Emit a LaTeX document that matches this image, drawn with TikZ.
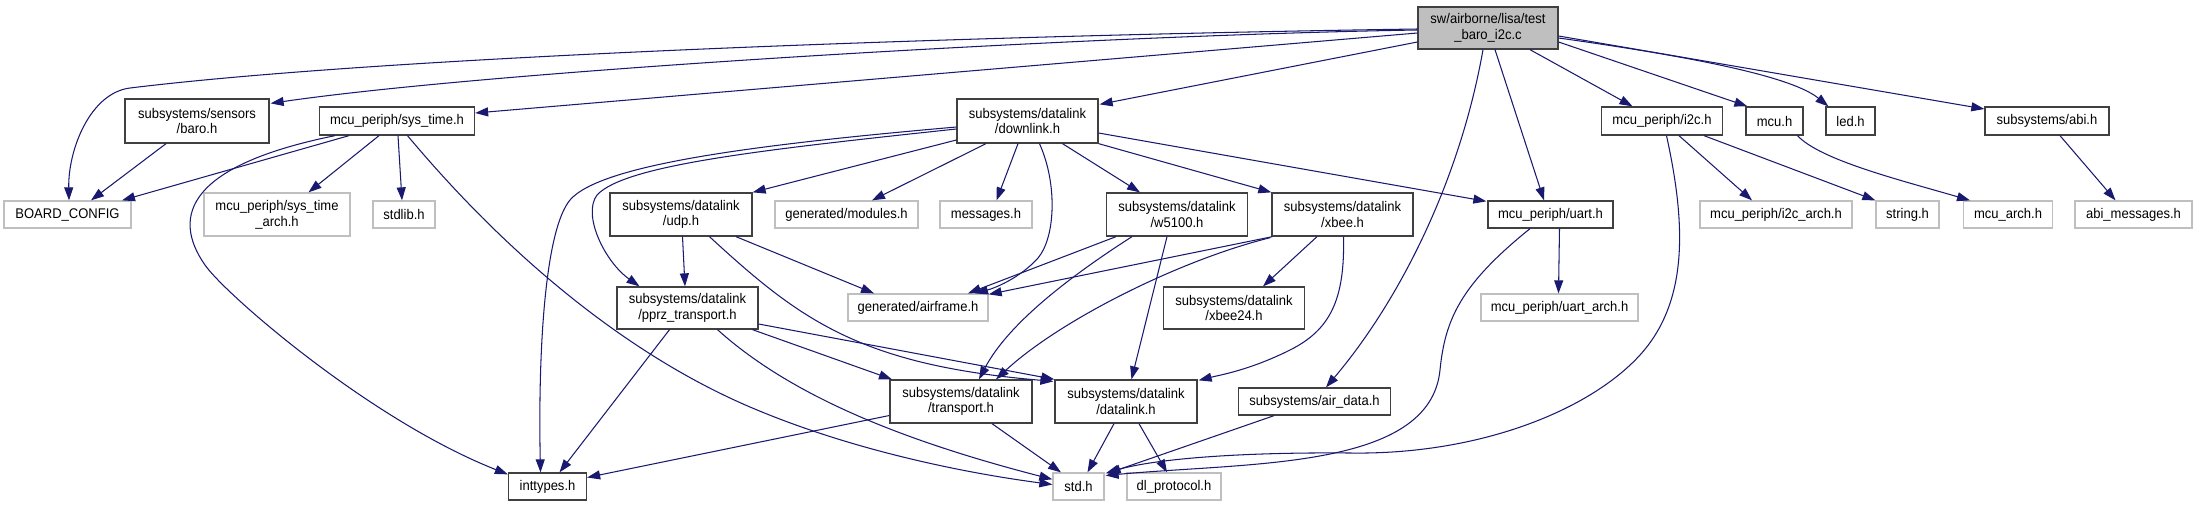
\documentclass[tikz,border=0pt]{standalone}
\usepackage{fontspec}
\newfontfamily\dfont{Liberation Sans}[FakeStretch=0.93]
\usetikzlibrary{arrows.meta,calc}
\definecolor{edgec}{HTML}{191970}
\definecolor{bordk}{HTML}{404040}
\definecolor{borgr}{HTML}{BFBFBF}
\definecolor{rootf}{HTML}{BFBFBF}
\tikzset{
  nd/.style={draw=bordk, line width=1.3pt, fill=white, inner sep=0pt, align=center,
    font=\dfont\fontsize{14}{15.7}\selectfont, text=black},
  gn/.style={nd, draw=borgr},
  rt/.style={nd, fill=rootf},
  ed/.style={draw=edgec, line width=1.05pt, -{Triangle[length=13pt,width=9pt]}, fill=none}
}
\begin{document}
\begin{tikzpicture}[x=1pt,y=-1pt]
\useasboundingbox[fill=white] (0,0) rectangle (2196,507);
% row 0
\node[rt, minimum width=140pt, minimum height=42pt] (root) at (1488,28) {sw/airborne/lisa/test\\\_baro\_i2c.c};
% row 1
\node[nd, minimum width=144pt, minimum height=44pt] (baro) at (197,121) {subsystems/sensors\\/baro.h};
\node[nd, minimum width=155pt, minimum height=28pt] (st) at (397,121) {mcu\_periph/sys\_time.h};
\node[nd, minimum width=141pt, minimum height=44pt] (dl) at (1027.5,121) {subsystems/datalink\\/downlink.h};
\node[nd, minimum width=121pt, minimum height=28pt] (i2c) at (1662,121) {mcu\_periph/i2c.h};
\node[nd, minimum width=57pt, minimum height=28pt] (mcu) at (1774.5,121) {mcu.h};
\node[nd, minimum width=49pt, minimum height=28pt] (led) at (1850.5,121) {led.h};
\node[nd, minimum width=124pt, minimum height=28pt] (abi) at (2047,121) {subsystems/abi.h};
% row 2
\node[gn, minimum width=127pt, minimum height=27pt] (bc) at (67.5,214.5) {BOARD\_CONFIG};
\node[gn, minimum width=146pt, minimum height=43pt] (sta) at (277,214.5) {mcu\_periph/sys\_time\\\_arch.h};
\node[gn, minimum width=62pt, minimum height=27pt] (stdlib) at (404,214.5) {stdlib.h};
\node[nd, minimum width=142pt, minimum height=43pt] (udp) at (681,214.5) {subsystems/datalink\\/udp.h};
\node[gn, minimum width=143pt, minimum height=27pt] (mod) at (846.5,214.5) {generated/modules.h};
\node[gn, minimum width=92pt, minimum height=27pt] (msg) at (986,214.5) {messages.h};
\node[nd, minimum width=141pt, minimum height=43pt] (w51) at (1177,214.5) {subsystems/datalink\\/w5100.h};
\node[nd, minimum width=141pt, minimum height=43pt] (xbee) at (1342.5,214.5) {subsystems/datalink\\/xbee.h};
\node[nd, minimum width=125pt, minimum height=27pt] (uart) at (1550.5,214.5) {mcu\_periph/uart.h};
\node[gn, minimum width=152pt, minimum height=27pt] (i2ca) at (1776,214.5) {mcu\_periph/i2c\_arch.h};
\node[gn, minimum width=63pt, minimum height=27pt] (str) at (1907.5,214.5) {string.h};
\node[gn, minimum width=89pt, minimum height=27pt] (mcua) at (2008,214.5) {mcu\_arch.h};
\node[gn, minimum width=117pt, minimum height=27pt] (abim) at (2133.5,214.5) {abi\_messages.h};
% row 3
\node[nd, minimum width=141pt, minimum height=42pt] (pprz) at (687.5,308) {subsystems/datalink\\/pprz\_transport.h};
\node[gn, minimum width=140pt, minimum height=27pt] (af) at (918,307.5) {generated/airframe.h};
\node[nd, minimum width=141pt, minimum height=42pt] (xb24) at (1234,308) {subsystems/datalink\\/xbee24.h};
\node[gn, minimum width=157pt, minimum height=27pt] (uarta) at (1559.5,307.5) {mcu\_periph/uart\_arch.h};
% row 4
\node[nd, minimum width=142pt, minimum height=43pt] (tr) at (961,401.5) {subsystems/datalink\\/transport.h};
\node[nd, minimum width=142pt, minimum height=43pt] (dlk) at (1126,401.5) {subsystems/datalink\\/datalink.h};
\node[nd, minimum width=152pt, minimum height=27pt] (ad) at (1314.5,401.5) {subsystems/air\_data.h};
% row 5
\node[nd, minimum width=78pt, minimum height=27pt] (it) at (547.5,486.5) {inttypes.h};
\node[gn, minimum width=51pt, minimum height=27pt] (std) at (1078.5,486.5) {std.h};
\node[gn, minimum width=94pt, minimum height=27pt] (dlp) at (1174,486.5) {dl\_protocol.h};
% edges from root
\draw[ed] ($(root.west)+(0,1)$) .. controls (1000,35) and (400,55) .. (130,88) .. controls (90,93) and (68,150) .. ($(bc.north)+(1.5,0)$);
\draw[ed] ($(root.west)+(0,2)$) .. controls (1100,35) and (500,70) .. ($(baro.north east)+(1,5)$);
\draw[ed] ($(root.west)+(0,5)$) -- ($(st.east)+(0,-8)$);
\draw[ed] ($(root.west)+(0,14)$) -- ($(dl.north east)+(1,6)$);
\draw[ed] ($(root.south)+(42,0)$) -- ($(i2c.north)+(-29.5,0)$);
\draw[ed] ($(root.east)+(0,14)$) -- ($(mcu.north west)+(2,0)$);
\draw[ed] ($(root.east)+(0,10)$) .. controls (1680,55) and (1790,75) .. ($(led.north west)+(3,0)$);
\draw[ed] ($(root.east)+(0,8)$) -- ($(abi.west)+(0,-12)$);
\draw[ed] ($(root.south)+(7,0)$) -- ($(uart.north)+(-6.5,0)$);
\draw[ed] ($(root.south)+(-5,0)$) .. controls (1460,180) and (1400,300) .. ($(ad.north)+(11.5,0)$);
% baro, sys_time
\draw[ed] ($(baro.south)+(-31,0)$) -- ($(bc.north)+(23.5,0)$);
\draw[ed] ($(st.south)+(-48,0)$) -- ($(bc.north)+(54.5,0)$);
\draw[ed] ($(st.south)+(-62,0)$) .. controls (190,165) and (170,215) .. (205,265) .. controls (225,294) and (370,420) .. ($(it.north west)+(0,2)$);
\draw[ed] ($(st.south)+(-18,0)$) -- ($(sta.north)+(31.5,0)$);
\draw[ed] ($(st.south)+(1,0)$) -- ($(stdlib.north)+(-2,0)$);
\draw[ed] ($(st.south)+(10.5,0)$) .. controls (520,270) and (640,360) .. (750,407) .. controls (860,454) and (980,475) .. ($(std.west)+(0,-2)$);
% downlink
\draw[ed] ($(dl.west)+(0,19)$) -- (udp.north east);
\draw[ed] ($(dl.south)+(-41.5,0)$) -- ($(mod.north)+(25.5,0)$);
\draw[ed] ($(dl.south)+(-9.5,0)$) -- ($(msg.north)+(10.5,0)$);
\draw[ed] ($(dl.south)+(12,0)$) .. controls (1058,185) and (1055,238) .. (1038,258) .. controls (1020,278) and (995,288) .. ($(af.north)+(57,0)$);
\draw[ed] ($(dl.south)+(35,0)$) -- ($(w51.north)+(-37,0)$);
\draw[ed] (dl.south east) -- (xbee.north west);
\draw[ed] ($(dl.east)+(0,12)$) -- ($(uart.north west)+(-1,1)$);
\draw[ed] ($(dl.west)+(0,6)$) .. controls (750,145) and (600,165) .. (570,200) .. controls (545,230) and (538,350) .. ($(it.north)+(-7,0)$);
\draw[ed] ($(dl.west)+(0,8)$) .. controls (760,150) and (625,165) .. (597,195) .. controls (582,215) and (605,262) .. ($(pprz.north)+(-48,0)$);
% w5100
\draw[ed] ($(w51.south)+(-61,0)$) -- ($(af.north)+(50,0)$);
\draw[ed] ($(w51.south)+(-45,0)$) .. controls (1080,270) and (1010,320) .. ($(tr.north)+(18,0)$);
\draw[ed] ($(w51.south)+(-10,0)$) -- ($(dlk.north)+(5.5,0)$);
% xbee
\draw[ed] ($(xbee.south west)+(1,0)$) -- ($(af.north east)+(0,1)$);
\draw[ed] ($(xbee.south west)+(-1,1)$) .. controls (1180,260) and (1060,320) .. ($(tr.north)+(35,0)$);
\draw[ed] ($(xbee.south)+(-25.5,0)$) -- ($(xb24.north)+(29,0)$);
\draw[ed] ($(xbee.south)+(1,0)$) .. controls (1345,300) and (1330,330) .. (1290,350) .. controls (1250,370) and (1220,375) .. ($(dlk.north east)+(1,1)$);
% udp
\draw[ed] ($(udp.south)+(1.5,0)$) -- ($(pprz.north)+(-2.5,0)$);
\draw[ed] ($(udp.south)+(55,0)$) -- ($(af.north)+(-44,0)$);
\draw[ed] ($(udp.south)+(28.5,0)$) .. controls (800,320) and (860,365) .. ($(dlk.north west)+(-1,2)$);
% pprz
\draw[ed] ($(pprz.south)+(-18,0)$) -- ($(it.north)+(12,0)$);
\draw[ed] ($(pprz.east)+(0,16)$) -- (dlk.north west);
\draw[ed] ($(pprz.south)+(65,0)$) -- ($(tr.north)+(-69,0)$);
\draw[ed] ($(pprz.south)+(30,0)$) .. controls (790,395) and (900,440) .. ($(std.north west)+(0,7)$);
% transport, datalink, air_data
\draw[ed] ($(tr.west)+(0,14)$) -- ($(it.east)+(0,-9)$);
\draw[ed] ($(tr.south)+(31,0)$) -- ($(std.north)+(-17.5,0)$);
\draw[ed] ($(dlk.south)+(-12,0)$) -- ($(std.north)+(9,0)$);
\draw[ed] ($(dlk.south)+(13,0)$) -- ($(dlp.north)+(-7,0)$);
\draw[ed] ($(ad.south)+(-40.5,0)$) -- ($(std.north east)+(3,1)$);
% uart, i2c, mcu, abi
\draw[ed] ($(uart.south)+(-20.5,0)$) .. controls (1460,285) and (1445,320) .. (1440,370) .. controls (1430,470) and (1250,462) .. ($(std.east)+(1,-11)$);
\draw[ed] ($(uart.south)+(9,0)$) -- ($(uarta.north)+(-1,0)$);
\draw[ed] ($(i2c.south)+(4.5,0)$) .. controls (1685,220) and (1690,300) .. (1640,355) .. controls (1590,410) and (1480,455) .. (1350,453) .. controls (1230,452) and (1150,460) .. ($(std.north east)+(1,1)$);
\draw[ed] ($(i2c.south)+(17,0)$) -- ($(i2ca.north)+(-24,0)$);
\draw[ed] ($(i2c.south)+(42,0)$) -- (str.north west);
\draw[ed] ($(mcu.south)+(23,0)$) .. controls (1820,160) and (1900,180) .. ($(mcua.north)+(-38,0)$);
\draw[ed] ($(abi.south)+(13,0)$) -- ($(abim.north)+(-18,0)$);
\end{tikzpicture}
\end{document}
